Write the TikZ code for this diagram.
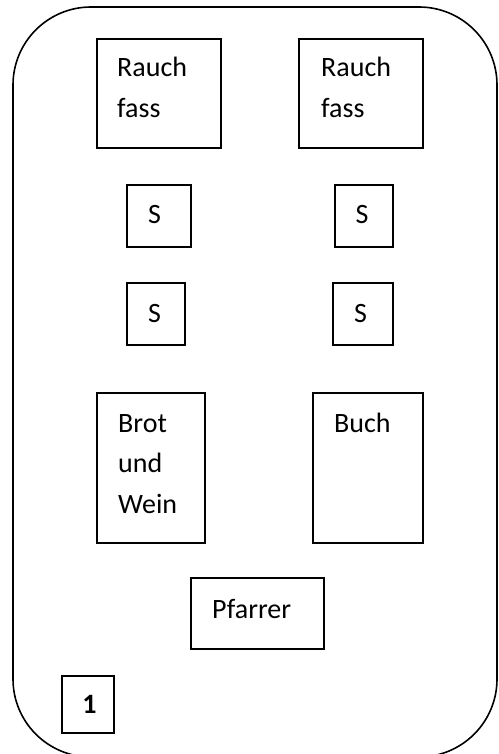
\documentclass[tikz,border=0pt]{standalone}
\usepackage{fontspec}
\setmainfont{Carlito}
\begin{document}
\begin{tikzpicture}[x=1pt,y=-1pt,
  box/.style={draw,line width=1.6pt,rectangle,inner sep=0pt},
  lbl/.style={anchor=base west,inner sep=0pt,font=\fontsize{28}{41}\selectfont},
  clbl/.style={anchor=base,inner sep=0pt,font=\fontsize{28}{41}\selectfont}]
\useasboundingbox (0,0) rectangle (498,754);
\begin{scope}
  \clip (0,0) rectangle (498,754);
  \draw[line width=1.6pt,rounded corners=78pt] (13,7) rectangle (497,757);
\end{scope}
% boxes
\node[box,minimum width=124pt,minimum height=109pt] (r1) at (159,93.5) {};
\node[box,minimum width=124pt,minimum height=109pt] (r2) at (361,93.5) {};
\node[box,minimum width=64pt,minimum height=62pt] (s1) at (159,216) {};
\node[box,minimum width=58pt,minimum height=62pt] (s2) at (364,216) {};
\node[box,minimum width=58pt,minimum height=62pt] (s3) at (156,314) {};
\node[box,minimum width=60pt,minimum height=62pt] (s4) at (363,314) {};
\node[box,minimum width=108pt,minimum height=150pt] (bw) at (151,468) {};
\node[box,minimum width=110pt,minimum height=150pt] (bu) at (368,468) {};
\node[box,minimum width=133pt,minimum height=71pt] (pf) at (257.5,613.5) {};
\node[box,minimum width=52pt,minimum height=57pt] (one) at (88,704.5) {};
% texts
\node[lbl] (r1a) at (117,77) {Rauch};
\node[lbl] (r1b) at (117,118) {fass};
\node[lbl] (r2a) at (321,77) {Rauch};
\node[lbl] (r2b) at (321,118) {fass};
\node[clbl] (s1t) at (154.5,223) {S};
\node[clbl] (s2t) at (362,223) {S};
\node[clbl] (s3t) at (154.5,322) {S};
\node[clbl] (s4t) at (360.5,322) {S};
\node[lbl] (bw1) at (118,432) {Brot};
\node[lbl] (bw2) at (118,472) {und};
\node[lbl] (bw3) at (118,513) {Wein};
\node[lbl] (but) at (334,432) {Buch};
\node[lbl] (pft) at (212,618) {Pfarrer};
\node[clbl,font=\fontsize{28}{41}\selectfont\bfseries] (onet) at (89.5,713) {1};
\end{tikzpicture}
\end{document}
